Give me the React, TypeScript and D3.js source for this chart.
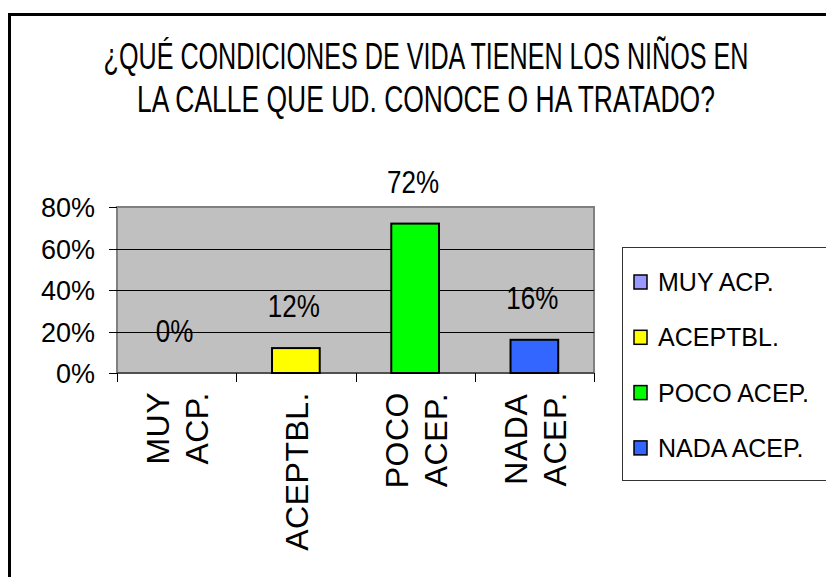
import React, { useEffect, useRef } from "react";
import * as d3 from "d3";

const titleLines = ["¿QUÉ CONDICIONES DE VIDA TIENEN LOS NIÑOS EN", "LA CALLE QUE UD. CONOCE O HA TRATADO?"];
const categories = ["MUY ACP.", "ACEPTBL.", "POCO ACEP.", "NADA ACEP."];
const axisLabelLines = [["MUY", "ACP."], ["ACEPTBL."], ["POCO", "ACEP."], ["NADA", "ACEP."]];
const values = [0, 0.12, 0.72, 0.16];
const valueLabels = ["0%", "12%", "72%", "16%"];
const colors = ["#9999FF", "#FFFF00", "#00FF00", "#3366FF"];
const yTicks = [0, 0.2, 0.4, 0.6, 0.8];

const FONT = "'Liberation Sans', Arial, sans-serif";

export default function App() {
  const ref = useRef<SVGSVGElement | null>(null);

  useEffect(() => {
    const svg = d3.select(ref.current);
    svg.selectAll("*").remove();

    const W = 826, H = 577;
    const plot = { left: 117, right: 594, top: 207, bottom: 373 };

    // outer chart border
    svg.append("rect").attr("x", 9.5).attr("y", 14.5).attr("width", W + 20).attr("height", H + 20)
      .attr("fill", "white").attr("stroke", "black").attr("stroke-width", 3);

    // title (horizontally condensed to the reference widths)
    const titleW = [645, 578];
    const titleY = [69, 112];
    titleLines.forEach((t, i) => {
      const tx = svg.append("text").attr("text-anchor", "middle")
        .attr("font-family", FONT).attr("font-size", 37)
        .attr("fill", "black").text(t);
      const natural = (tx.node() as SVGTextElement).getComputedTextLength();
      const s = natural > 0 ? titleW[i] / natural : 1;
      tx.attr("transform", `translate(426,${titleY[i]}) scale(${s},1)`);
    });

    const x = d3.scaleBand<string>().domain(categories).range([plot.left, plot.right])
      .paddingInner(0.6).paddingOuter(0.3);
    const y = d3.scaleLinear().domain([0, 0.8]).range([plot.bottom, plot.top]);

    // plot area
    svg.append("rect").attr("x", plot.left).attr("y", plot.top)
      .attr("width", plot.right - plot.left).attr("height", plot.bottom - plot.top)
      .attr("fill", "#C0C0C0").attr("stroke", "#808080").attr("stroke-width", 2);

    // gridlines
    yTicks.filter(t => t > 0 && t < 0.8).forEach(t => {
      svg.append("line").attr("x1", plot.left).attr("x2", plot.right)
        .attr("y1", Math.round(y(t)) + 0.5).attr("y2", Math.round(y(t)) + 0.5)
        .attr("stroke", "black").attr("stroke-width", 1);
    });

    // y ticks + labels
    yTicks.forEach(t => {
      const yy = Math.round(y(t)) + 0.5;
      svg.append("line").attr("x1", 109).attr("x2", plot.left).attr("y1", yy).attr("y2", yy)
        .attr("stroke", "black").attr("stroke-width", 1);
      svg.append("text").attr("x", 95).attr("y", y(t) + 10).attr("text-anchor", "end")
        .attr("font-family", FONT).attr("font-size", 27).attr("fill", "black")
        .text(d3.format(".0%")(t));
    });

    // bottom axis line + category ticks
    svg.append("line").attr("x1", plot.left).attr("x2", plot.right)
      .attr("y1", plot.bottom).attr("y2", plot.bottom).attr("stroke", "#404040").attr("stroke-width", 1.5);
    const step = x.step();
    const boundaries = d3.range(categories.length + 1).map(i => plot.left + i * step);
    boundaries.forEach(bx => {
      svg.append("line").attr("x1", Math.round(bx) + 0.5).attr("x2", Math.round(bx) + 0.5)
        .attr("y1", plot.bottom).attr("y2", 382).attr("stroke", "black").attr("stroke-width", 1);
    });

    // bars
    categories.forEach((c, i) => {
      if (values[i] <= 0) return;
      svg.append("rect").attr("x", x(c)!).attr("y", y(values[i]))
        .attr("width", x.bandwidth()).attr("height", y(0) - y(values[i]))
        .attr("fill", colors[i]).attr("stroke", "black").attr("stroke-width", 2);
    });

    // data labels
    categories.forEach((c, i) => {
      const cx = x(c)! + x.bandwidth() / 2 - 2;
      svg.append("text")
        .attr("transform", `translate(${cx},${y(values[i]) - 31}) scale(0.84,1)`)
        .attr("text-anchor", "middle").attr("font-family", FONT).attr("font-size", 31)
        .attr("fill", "black").text(valueLabels[i]);
    });

    // category labels (rotated, multi-line, centered lines)
    const lineGap = 39;
    const capHalf = 12;
    categories.forEach((c, i) => {
      const center = x(c)! + x.bandwidth() / 2;
      const lines = axisLabelLines[i];
      const n = lines.length;
      const g = svg.append("g");
      const nodes = lines.map((ln, j) => {
        const bx = center + capHalf + (j - (n - 1) / 2) * lineGap;
        return g.append("text").attr("font-family", FONT).attr("font-size", 32)
          .attr("letter-spacing", 0.5).attr("text-anchor", "middle").attr("fill", "black")
          .attr("data-bx", bx).text(ln);
      });
      const lens = nodes.map(nd => (nd.node() as SVGTextElement).getComputedTextLength());
      const maxLen = Math.max(...lens);
      const mid = 392 + maxLen / 2;
      nodes.forEach(nd => {
        const bx = +nd.attr("data-bx");
        nd.attr("transform", `translate(${bx},${mid}) rotate(-90)`);
      });
    });

    // legend
    svg.append("rect").attr("x", 622.5).attr("y", 247.5).attr("width", 230).attr("height", 233)
      .attr("fill", "white").attr("stroke", "#333").attr("stroke-width", 1);
    categories.forEach((c, i) => {
      const cy = 282 + i * 55.3;
      svg.append("rect").attr("x", 634).attr("y", cy - 7).attr("width", 13).attr("height", 14)
        .attr("fill", colors[i]).attr("stroke", "black").attr("stroke-width", 1.5);
      svg.append("text").attr("x", 658).attr("y", cy + 9).attr("font-family", FONT)
        .attr("font-size", 25).attr("fill", "black").text(c);
    });
  }, []);

  return (
    <svg ref={ref} width={826} height={577}
      style={{ position: "absolute", left: 0, top: 0, background: "white" }} />
  );
}
